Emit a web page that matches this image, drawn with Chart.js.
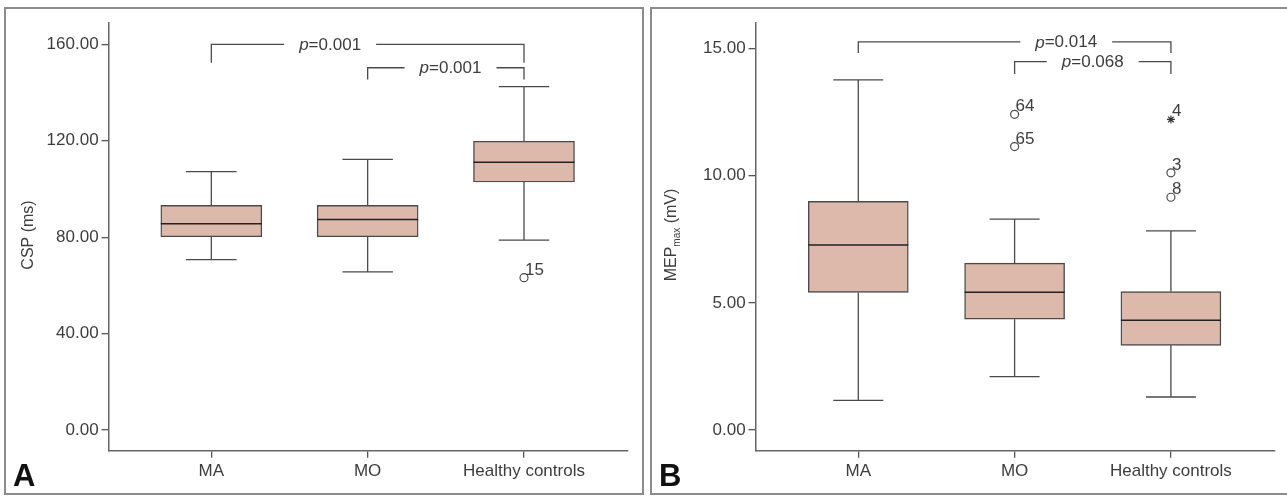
<!DOCTYPE html>
<html lang="en">
<head>
<meta charset="UTF-8">
<title>CSP and MEPmax box plots</title>
<script src="https://cdn.jsdelivr.net/npm/chart.js"></script>
<style>
    body {
        margin: 0;
        background: #fff;
        width: 1287px;
        height: 496px;
        overflow: hidden;
        position: relative;
        font-family: 'Liberation Sans', Arial, sans-serif;
    }
    .frame {
        position: absolute;
        top: 7px;
        height: 488px;
        border: 2px solid #8c8c8c;
        box-sizing: border-box;
    }
    #frameA { left: 4px; width: 640px; }
    #frameB { left: 650px; width: 645px; }
    canvas { position: absolute; top: 0; }
    #chartA { left: 0; }
    #chartB { left: 645px; }
    .letter {
        position: absolute;
        top: 460px;
        font-size: 31px;
        line-height: 31px;
        font-weight: bold;
        color: #111;
    }
</style>
</head>
<body>
<div class="frame" id="frameA"></div>
<div class="frame" id="frameB"></div>
<canvas id="chartA" width="645" height="496"></canvas>
<canvas id="chartB" width="642" height="496"></canvas>
<div class="letter" style="left:13px">A</div>
<div class="letter" style="left:659px">B</div>

<script>
    // categories along the x axis
    const categories = ['MA', 'MO', 'Healthy controls'];
    const catPos = [0, 1, 2];

    // Panel A: CSP (ms)
    const cspQ1 = [80.2, 80.2, 102.9];
    const cspMedian = [85.6, 87.3, 111.1];
    const cspQ3 = [93.2, 93.2, 119.8];
    const cspLow = [70.7, 65.6, 78.8];
    const cspHigh = [107.2, 112.3, 142.5];
    const cspOutX = [2];
    const cspOutY = [63.2];
    const cspOutLabel = ['15'];
    const cspTicks = [0, 40, 80, 120, 160];
    const cspBracketFrom = [0, 1];
    const cspBracketTo = [2, 2];
    const cspBracketLevel = [160, 150.3];
    const cspBracketFoot = [152.4, 145.4];
    const cspBracketTextAt = [0.76, 1.53];
    const cspBracketP = ['0.001', '0.001'];

    // Panel B: MEPmax (mV)
    const mepQ1 = [5.41, 4.36, 3.33];
    const mepMedian = [7.27, 5.42, 4.32];
    const mepQ3 = [8.99, 6.56, 5.44];
    const mepLow = [1.17, 2.10, 1.30];
    const mepHigh = [13.76, 8.29, 7.83];
    const mepOutX = [1, 1, 2, 2];
    const mepOutY = [12.41, 11.14, 10.11, 9.15];
    const mepOutLabel = ['64', '65', '3', '8'];
    const mepExtX = [2];
    const mepExtY = [12.21];
    const mepExtLabel = ['4'];
    const mepTicks = [0, 5, 10, 15];
    const mepBracketFrom = [0, 1];
    const mepBracketTo = [2, 2];
    const mepBracketLevel = [15.26, 14.48];
    const mepBracketFoot = [14.82, 13.99];
    const mepBracketTextAt = [1.33, 1.50];
    const mepBracketP = ['0.014', '0.068'];

    const TEXT = '#3d3d3d';
    const LINE = '#4a4a4a';
    const FONT = "'Liberation Sans', Arial, sans-serif";

    Chart.defaults.font.family = FONT;
    Chart.defaults.font.size = 17;
    Chart.defaults.color = TEXT;

    // whiskers, medians, outlier labels, p-value brackets and rotated y title
    const boxExtras = {
        id: 'boxExtras',
        afterDatasetsDraw(chart, args, o) {
            const ctx = chart.ctx;
            const x = chart.scales.x, y = chart.scales.y;
            const half = o.boxWidth / 4;
            ctx.save();
            ctx.strokeStyle = LINE;
            ctx.lineWidth = 1.3;

            catPos.forEach((p, i) => {
                const cx = x.getPixelForValue(p);
                const yHi = y.getPixelForValue(o.high[i]);
                const yLo = y.getPixelForValue(o.low[i]);
                ctx.beginPath();
                ctx.moveTo(cx, y.getPixelForValue(o.q3[i]));
                ctx.lineTo(cx, yHi);
                ctx.moveTo(cx - half, yHi);
                ctx.lineTo(cx + half, yHi);
                ctx.moveTo(cx, y.getPixelForValue(o.q1[i]));
                ctx.lineTo(cx, yLo);
                ctx.moveTo(cx - half, yLo);
                ctx.lineTo(cx + half, yLo);
                ctx.stroke();

                const ym = y.getPixelForValue(o.median[i]);
                ctx.save();
                ctx.strokeStyle = '#222';
                ctx.lineWidth = 1.5;
                ctx.beginPath();
                ctx.moveTo(cx - o.boxWidth / 2, ym);
                ctx.lineTo(cx + o.boxWidth / 2, ym);
                ctx.stroke();
                ctx.restore();
            });

            // outlier case numbers
            ctx.fillStyle = TEXT;
            ctx.font = '17px ' + FONT;
            ctx.textBaseline = 'alphabetic';
            ctx.textAlign = 'left';
            o.labels.forEach(l => {
                ctx.fillText(l.text, x.getPixelForValue(l.x) + 1, y.getPixelForValue(l.y) - 3);
            });

            // brackets with p values
            o.brackets.forEach(b => {
                const xl = x.getPixelForValue(b.from);
                const xr = x.getPixelForValue(b.to);
                const yl = y.getPixelForValue(b.level);
                const yf = y.getPixelForValue(b.foot);
                const tx = x.getPixelForValue(b.textAt);
                ctx.font = 'italic 17px ' + FONT;
                const wp = ctx.measureText('p').width;
                ctx.font = '17px ' + FONT;
                const wr = ctx.measureText('=' + b.p).width;
                const start = tx - (wp + wr) / 2;
                ctx.beginPath();
                ctx.moveTo(xl, yf);
                ctx.lineTo(xl, yl);
                ctx.lineTo(start - 15, yl);
                ctx.moveTo(start + wp + wr + 15, yl);
                ctx.lineTo(xr, yl);
                ctx.lineTo(xr, yf);
                ctx.stroke();
                ctx.textBaseline = 'middle';
                ctx.font = 'italic 17px ' + FONT;
                ctx.fillText('p', start, yl + 1);
                ctx.font = '17px ' + FONT;
                ctx.fillText('=' + b.p, start + wp, yl + 1);
            });

            // y axis title, rotated
            let total = 0;
            o.title.forEach(t => {
                ctx.font = t.size + 'px ' + FONT;
                total += ctx.measureText(t.text).width;
            });
            ctx.translate(o.titleX, o.titleY);
            ctx.rotate(-Math.PI / 2);
            ctx.textBaseline = 'alphabetic';
            let pos = -total / 2;
            o.title.forEach(t => {
                ctx.font = t.size + 'px ' + FONT;
                ctx.fillText(t.text, pos, t.shift);
                pos += ctx.measureText(t.text).width;
            });
            ctx.restore();
        }
    };

    function buildChart(id, d) {
        const labels = d.outX.map((p, i) => ({ x: p, y: d.outY[i], text: d.outLabel[i] }))
            .concat(d.extX.map((p, i) => ({ x: p, y: d.extY[i], text: d.extLabel[i] })));
        const brackets = d.bFrom.map((f, i) => ({
            from: f, to: d.bTo[i], level: d.bLevel[i], foot: d.bFoot[i], textAt: d.bTextAt[i], p: d.bP[i]
        }));
        const axisGrid = { drawOnChartArea: false, drawTicks: true, tickLength: 7, color: '#555', lineWidth: 1.3, offset: false };
        const axisBorder = { display: true, color: '#666', width: 1.5 };

        return new Chart(document.getElementById(id), {
            type: 'bar',
            data: {
                datasets: [
                    {
                        type: 'bar',
                        data: catPos.map((p, i) => ({ x: p, y: [d.q1[i], d.q3[i]] })),
                        backgroundColor: '#dcb9ab',
                        borderColor: LINE,
                        borderWidth: 1.4,
                        borderSkipped: false,
                        barThickness: d.boxWidth
                    },
                    {
                        type: 'scatter',
                        data: d.outX.map((p, i) => ({ x: p, y: d.outY[i] })),
                        pointStyle: 'circle',
                        pointRadius: 4,
                        backgroundColor: '#fff',
                        borderColor: LINE,
                        borderWidth: 1.2
                    },
                    {
                        type: 'scatter',
                        data: d.extX.map((p, i) => ({ x: p, y: d.extY[i] })),
                        pointStyle: 'star',
                        pointRadius: 4,
                        borderColor: '#333',
                        borderWidth: 1.2
                    }
                ]
            },
            options: {
                responsive: false,
                animation: false,
                layout: { padding: { top: 22.7, right: d.padRight, left: 0, bottom: 0 } },
                plugins: {
                    legend: { display: false },
                    tooltip: { enabled: false },
                    boxExtras: {
                        boxWidth: d.boxWidth,
                        q1: d.q1, q3: d.q3, median: d.median, low: d.low, high: d.high,
                        labels: labels,
                        brackets: brackets,
                        title: d.title,
                        titleX: d.titleX,
                        titleY: 235
                    }
                },
                scales: {
                    x: {
                        type: 'linear',
                        min: -0.657,
                        max: 2.664,
                        offset: false,
                        afterBuildTicks: s => { s.ticks = catPos.map(v => ({ value: v })); },
                        afterFit: s => { s.height = 45.3; },
                        ticks: {
                            callback: (v, i) => categories[i],
                            padding: 3,
                            maxRotation: 0,
                            autoSkip: false
                        },
                        grid: axisGrid,
                        border: axisBorder
                    },
                    y: {
                        type: 'linear',
                        min: d.yMin,
                        max: d.yMax,
                        afterBuildTicks: s => { s.ticks = d.ticks.map(v => ({ value: v })); },
                        afterFit: s => { s.width = d.axisLeft; },
                        ticks: {
                            callback: v => Number(v).toFixed(2),
                            padding: 3
                        },
                        grid: axisGrid,
                        border: axisBorder
                    }
                }
            },
            plugins: [boxExtras]
        });
    }

    buildChart('chartA', {
        q1: cspQ1, q3: cspQ3, median: cspMedian, low: cspLow, high: cspHigh,
        outX: cspOutX, outY: cspOutY, outLabel: cspOutLabel,
        extX: [], extY: [], extLabel: [],
        ticks: cspTicks, yMin: -8.6, yMax: 169,
        bFrom: cspBracketFrom, bTo: cspBracketTo, bLevel: cspBracketLevel,
        bFoot: cspBracketFoot, bTextAt: cspBracketTextAt, bP: cspBracketP,
        boxWidth: 101, axisLeft: 108.6, padRight: 17.2,
        title: [{ text: 'CSP (ms)', size: 16, shift: 0 }],
        titleX: 32.5
    });

    buildChart('chartB', {
        q1: mepQ1, q3: mepQ3, median: mepMedian, low: mepLow, high: mepHigh,
        outX: mepOutX, outY: mepOutY, outLabel: mepOutLabel,
        extX: mepExtX, extY: mepExtY, extLabel: mepExtLabel,
        ticks: mepTicks, yMin: -0.81, yMax: 16.01,
        bFrom: mepBracketFrom, bTo: mepBracketTo, bLevel: mepBracketLevel,
        bFoot: mepBracketFoot, bTextAt: mepBracketTextAt, bP: mepBracketP,
        boxWidth: 100, axisLeft: 110.6, padRight: 12.3,
        title: [
            { text: 'MEP', size: 16, shift: 0 },
            { text: 'max', size: 10, shift: 4 },
            { text: ' (mV)', size: 16, shift: 0 }
        ],
        titleX: 30.7
    });
</script>
</body>
</html>
